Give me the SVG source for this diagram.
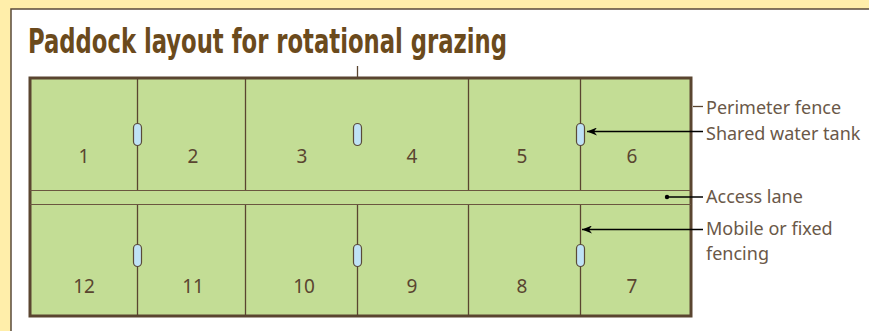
<svg xmlns="http://www.w3.org/2000/svg" width="869" height="331" viewBox="0 0 869 331">
<defs>
<style>
.fence{stroke:#5a4530;stroke-width:1.3;fill:none}
.lane{stroke:#6b5640;stroke-width:1.2;fill:none}
.tank{fill:#bfe2f6;stroke:#5a4a38;stroke-width:1.2}
.num{font-family:"Noto Sans","Open Sans","DejaVu Sans",sans-serif;font-size:19px;fill:#5a4530;text-anchor:middle}
.lbl{font-family:"Noto Sans","Open Sans","DejaVu Sans",sans-serif;font-size:18px;fill:#6a5848}
.lead{stroke:#000;stroke-width:1.3;fill:none}
.title{font-family:"Liberation Sans Narrow","DejaVu Sans Condensed","Roboto Condensed","Liberation Sans",sans-serif;font-weight:bold;font-size:34px;fill:#6b4a1c}
</style>
<marker id="ah" viewBox="0 0 10 8" refX="10" refY="4" markerWidth="10" markerHeight="8" markerUnits="userSpaceOnUse" orient="auto">
<path d="M0,0 L10,4 L0,8 L3,4 Z" fill="#000"/>
</marker>
</defs>
<rect x="0" y="0" width="869" height="331" fill="#ffeeaa"/>
<rect x="11" y="9" width="870" height="340" fill="#ffffff" stroke="#5a4a3a" stroke-width="1.5"/>
<text class="title" x="28" y="53" textLength="479" lengthAdjust="spacingAndGlyphs">Paddock layout for rotational grazing</text>

<g id="field">
<rect x="30" y="78" width="661" height="238" fill="#c3dd95" stroke="#5a4530" stroke-width="3"/>
</g>
<g id="access-lane">
<line class="lane" x1="30" y1="190.5" x2="691" y2="190.5"/>
<line class="lane" x1="30" y1="204.5" x2="691" y2="204.5"/>
</g>
<g id="fences">
<line class="fence" x1="137.5" y1="78" x2="137.5" y2="190"/>
<line class="fence" x1="245.5" y1="78" x2="245.5" y2="190"/>
<line class="fence" x1="468.5" y1="78" x2="468.5" y2="190"/>
<line class="fence" x1="580.5" y1="78" x2="580.5" y2="190"/>
<line class="fence" x1="137.5" y1="205" x2="137.5" y2="316"/>
<line class="fence" x1="245.5" y1="205" x2="245.5" y2="316"/>
<line class="fence" x1="357.5" y1="205" x2="357.5" y2="316"/>
<line class="fence" x1="468.5" y1="205" x2="468.5" y2="316"/>
<line class="fence" x1="580.5" y1="205" x2="580.5" y2="316"/>
<line class="fence" x1="357.5" y1="66" x2="357.5" y2="77"/>
</g>
<g id="tanks">
<rect class="tank" x="133.5" y="123.5" width="8" height="22" rx="4"/>
<rect class="tank" x="353.5" y="123.5" width="8" height="22" rx="4"/>
<rect class="tank" x="576.5" y="123.5" width="8" height="22" rx="4"/>
<rect class="tank" x="133.5" y="244.5" width="8" height="22" rx="4"/>
<rect class="tank" x="353.5" y="244.5" width="8" height="22" rx="4"/>
<rect class="tank" x="576.5" y="244.5" width="8" height="22" rx="4"/>
</g>
<g id="paddock-1"><text class="num" x="84" y="163">1</text></g>
<g id="paddock-2"><text class="num" x="193" y="163">2</text></g>
<g id="paddock-3"><text class="num" x="302" y="163">3</text></g>
<g id="paddock-4"><text class="num" x="412" y="163">4</text></g>
<g id="paddock-5"><text class="num" x="522" y="163">5</text></g>
<g id="paddock-6"><text class="num" x="632" y="163">6</text></g>
<g id="paddock-12"><text class="num" x="84" y="293">12</text></g>
<g id="paddock-11"><text class="num" x="193" y="293">11</text></g>
<g id="paddock-10"><text class="num" x="304" y="293">10</text></g>
<g id="paddock-9"><text class="num" x="412" y="293">9</text></g>
<g id="paddock-8"><text class="num" x="522" y="293">8</text></g>
<g id="paddock-7"><text class="num" x="632" y="293">7</text></g>

<g id="connectors">
<line x1="693" y1="106.5" x2="703" y2="106.5" stroke="#5a4530" stroke-width="1.3"/>
<line class="lead" x1="703" y1="131.5" x2="587" y2="131.5" marker-end="url(#ah)"/>
<line class="lead" x1="703" y1="197" x2="667" y2="197"/>
<circle cx="667" cy="197" r="2.2" fill="#000"/>
<line class="lead" x1="703" y1="229.5" x2="582" y2="229.5" marker-end="url(#ah)"/>
</g>
<g id="labels">
<text class="lbl" x="706" y="114">Perimeter fence</text>
<text class="lbl" x="706" y="139.5">Shared water tank</text>
<text class="lbl" x="706" y="203">Access lane</text>
<text class="lbl" x="706" y="235">Mobile or fixed</text>
<text class="lbl" x="706" y="259.5">fencing</text>
</g>
</svg>
